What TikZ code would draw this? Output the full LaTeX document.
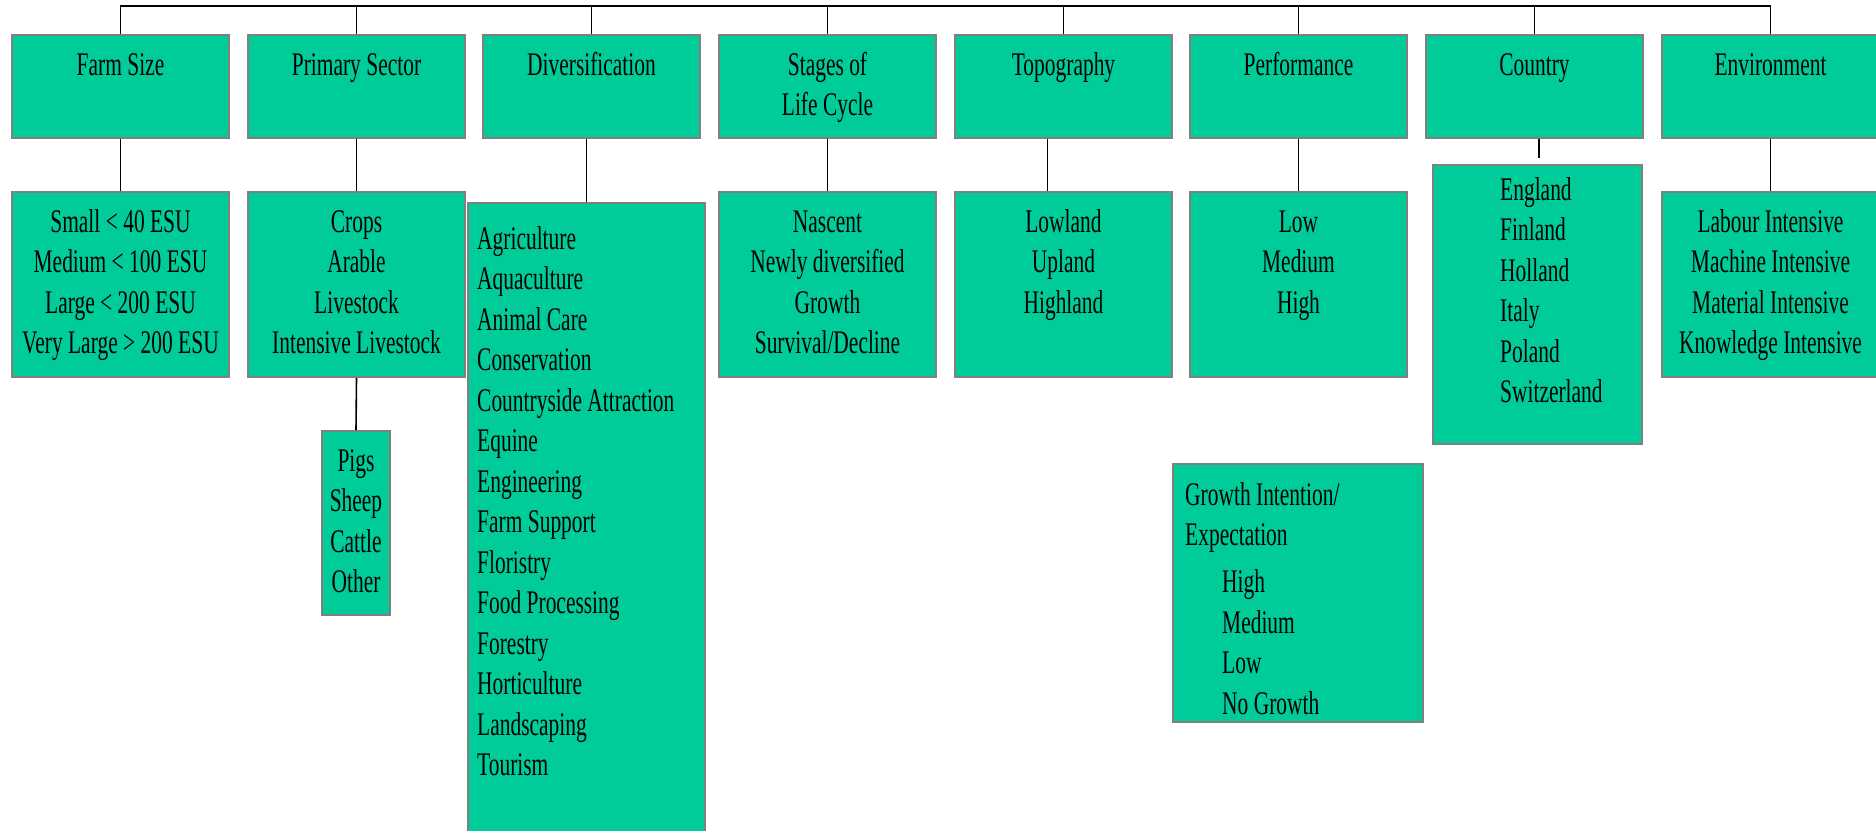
\documentclass[tikz,border=0pt]{standalone}
\usepackage{fontspec}
\setmainfont[FakeStretch=0.65]{Liberation Serif}
\usetikzlibrary{positioning}
\definecolor{boxgreen}{RGB}{0,204,153}
\definecolor{boxedge}{RGB}{128,128,128}
\newcommand\chartfont{\fontsize{33}{40.5}\selectfont\spaceskip=5.4pt plus 1pt minus 1pt\relax}
\begin{document}
\begin{tikzpicture}[x=1pt,y=-1pt,
    every node/.style={font=\chartfont},
    box/.style={draw=boxedge,line width=2pt,fill=boxgreen,anchor=north west,inner sep=0pt},
    head/.style={box,minimum width=217pt,minimum height=103pt},
    sub/.style={box,minimum width=217pt,minimum height=185pt},
    txt/.style={anchor=base,inner sep=0pt,align=flush center,text width=#1pt},
    txt/.default=240,
    ltxt/.style={anchor=base west,inner sep=0pt,align=flush left,text width=#1pt},
    wire/.style={line width=1.6pt}]
  \useasboundingbox (0,0) rectangle (1876,830);
  \coordinate (bus) at (0,6);
  % headings
  \node[head] (farm) at (11,34) {};
  \node[head] (prim) at (247,34) {};
  \node[head] (div) at (482,34) {};
  \node[head] (stage) at (718,34) {};
  \node[head] (topo) at (954,34) {};
  \node[head] (perf) at (1189,34) {};
  \node[head] (ctry) at (1425,34) {};
  \node[head] (env) at (1661,34) {};
  \node[txt] (farmT) at ([yshift=-41pt]farm.north) {Farm Size};
  \node[txt] (primT) at ([yshift=-41pt]prim.north) {Primary Sector};
  \node[txt] (divT) at ([yshift=-41pt]div.north) {Diversification};
  \node[txt] (stageT) at ([yshift=-41pt]stage.north) {Stages of\\Life Cycle};
  \node[txt] (topoT) at ([yshift=-41pt]topo.north) {Topography};
  \node[txt] (perfT) at ([yshift=-41pt]perf.north) {Performance};
  \node[txt] (ctryT) at ([yshift=-41pt]ctry.north) {Country};
  \node[txt] (envT) at ([yshift=-41pt]env.north) {Environment};
  % categories
  \node[sub] (farmsub) at (11,191) {};
  \node[sub] (primsub) at (247,191) {};
  \node[box,minimum width=237pt,minimum height=640pt] (divsub) at (467,202) {};
  \node[sub] (stagesub) at (718,191) {};
  \node[sub] (toposub) at (954,191) {};
  \node[sub] (perfsub) at (1189,191) {};
  \node[box,minimum width=209pt,minimum height=279pt] (ctrysub) at (1432,164) {};
  \node[sub] (envsub) at (1661,191) {};
  \node[box,minimum width=68pt,minimum height=184pt] (pigs) at (321,430) {};
  \node[box,minimum width=250pt,minimum height=258pt] (growth) at (1172,463) {};
  \node[txt] (farmL) at ([yshift=-41pt]farmsub.north) {Small < 40 ESU\\Medium < 100 ESU\\Large < 200 ESU\\Very Large > 200 ESU};
  \node[txt] (primL) at ([yshift=-41pt]primsub.north) {Crops\\Arable\\Livestock\\Intensive Livestock};
  \node[ltxt=225] (divL) at ([xshift=10pt,yshift=-47pt]divsub.north west) {Agriculture\\Aquaculture\\Animal Care\\Conservation\\Countryside Attraction\\Equine\\Engineering\\Farm Support\\Floristry\\Food Processing\\Forestry\\Horticulture\\Landscaping\\Tourism};
  \node[txt] (stageL) at ([yshift=-41pt]stagesub.north) {Nascent\\Newly diversified\\Growth\\Survival/Decline};
  \node[txt] (topoL) at ([yshift=-41pt]toposub.north) {Lowland\\Upland\\Highland};
  \node[txt] (perfL) at ([yshift=-41pt]perfsub.north) {Low\\Medium\\High};
  \node[ltxt=140] (ctryL) at ([xshift=68pt,yshift=-36pt]ctrysub.north west) {England\\Finland\\Holland\\Italy\\Poland\\Switzerland};
  \node[txt] (envL) at ([yshift=-41pt]envsub.north) {Labour Intensive\\Machine Intensive\\Material Intensive\\Knowledge Intensive};
  \node[txt=68] (pigsL) at ([yshift=-41pt]pigs.north) {Pigs\\Sheep\\Cattle\\Other};
  \node[ltxt=235] (growthL) at ([xshift=13pt,yshift=-42pt]growth.north west) {Growth Intention/\\Expectation\\[6.5pt]
    \hspace*{37pt}High\\\hspace*{37pt}Medium\\\hspace*{37pt}Low\\\hspace*{37pt}No Growth};
  % connectors
  \draw[wire] (farm.north) -- (farm.north |- bus) -- (env.north |- bus) -- (env.north);
  \foreach \n in {prim,div,stage,topo,perf,ctry}
    \draw[wire] (\n.north) -- (\n.north |- bus);
  \foreach \a/\b in {farm/farmsub,prim/primsub,stage/stagesub,perf/perfsub,env/envsub}
    \draw[wire] (\a.south) -- (\b.north);
  \draw[wire] (divsub.north) -- (divsub.north |- div.south);
  \draw[wire] ([xshift=-16pt]toposub.north) -- ([xshift=-16pt]topo.south);
  \coordinate (ctryend) at (1539,158);
  \draw[wire] (ctryend |- ctry.south) -- (ctryend);
  \draw[wire] (primsub.south) -- (pigs.north);
\end{tikzpicture}
\end{document}
